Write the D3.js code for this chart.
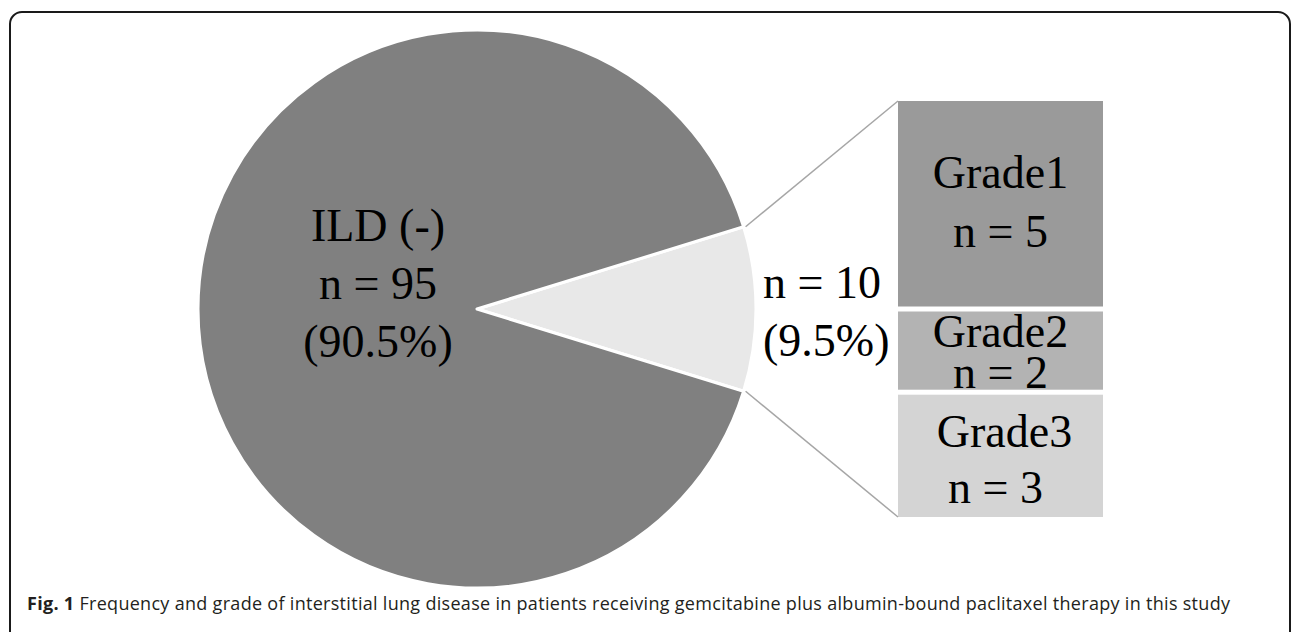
<!DOCTYPE html>
<html>
<head>
<meta charset="utf-8">
<script src="https://cdn.jsdelivr.net/npm/d3@7"></script>
<style>
    body { margin: 0; background: #fff; }
    svg { display: block; }
    .lbl { font-family: "Liberation Serif", "Times New Roman", serif; font-size: 46px; fill: #000; }
    .caption { font-family: "Open Sans", sans-serif; font-size: 18px; fill: #231f20; }
</style>
</head>
<body>
<svg id="chart" width="1292" height="632"></svg>
<script>
/*** DATA ***/
let pie_values = [10, 95];
let pie_lines  = [["n = 10", "(9.5%)"], ["ILD (-)", "n = 95", "(90.5%)"]];
let grades       = ["Grade1", "Grade2", "Grade3"];
let grade_values = [5, 2, 3];
let pie_colors   = ["#e8e8e8", "#808080"];
let grade_colors = ["#9a9a9a", "#b3b3b3", "#d4d4d4"];

/*** SETUP ***/
let svg = d3.select("#chart");
let cx = 477, cy = 309, radius = 279;

// frame
svg.append("rect")
    .attr("x", 10).attr("y", 12)
    .attr("width", 1280).attr("height", 640)
    .attr("rx", 12).attr("ry", 12)
    .attr("fill", "none")
    .attr("stroke", "#1a1a1a")
    .attr("stroke-width", 2);

// pie with the small slice centred on the right
let total = d3.sum(pie_values);
let half = Math.PI * pie_values[0] / total;
let pie = d3.pie().sort(null)
    .startAngle(Math.PI / 2 - half)
    .endAngle(Math.PI / 2 - half + 2 * Math.PI);
let arcs = pie(pie_values);
let arc = d3.arc().innerRadius(0).outerRadius(radius);

let g = svg.append("g").attr("transform", `translate(${cx}, ${cy})`);
g.selectAll("path")
    .data(arcs).enter()
    .append("path")
    .attr("d", arc)
    .attr("fill", (d, i) => pie_colors[i])
    .attr("stroke", "#fff")
    .attr("stroke-width", 3)
    .attr("stroke-linejoin", "round");

// stacked bar of the small slice
let bar_x = d3.scaleBand().domain(["ILD (+)"]).range([898, 1103]).padding(0);
let bar_y = d3.scaleLinear().domain([0, d3.sum(grade_values)]).range([101, 517]);
let stacked = grade_values.map((v, i) => {
    let s = d3.sum(grade_values.slice(0, i));
    return {name: grades[i], value: v, y0: s, y1: s + v, i: i};
});

svg.selectAll("rect.grade")
    .data(stacked).enter()
    .append("rect")
    .classed("grade", true)
    .attr("x", bar_x("ILD (+)"))
    .attr("width", bar_x.bandwidth())
    .attr("y", (d) => bar_y(d.y0) + (d.i > 0 ? 2.5 : 0))
    .attr("height", (d) => bar_y(d.y1) - bar_y(d.y0) - (d.i > 0 ? 2.5 : 0) - (d.i < 2 ? 2.5 : 0))
    .attr("fill", (d) => grade_colors[d.i]);

// connector lines from slice edges to bar corners
let a0 = arcs[0].startAngle, a1 = arcs[0].endAngle;
let ends = [
    [cx + radius * Math.sin(a0), cy - radius * Math.cos(a0), bar_x("ILD (+)"), bar_y(0)],
    [cx + radius * Math.sin(a1), cy - radius * Math.cos(a1), bar_x("ILD (+)"), bar_y(d3.sum(grade_values))]
];
svg.selectAll("line.conn")
    .data(ends).enter()
    .append("line")
    .attr("x1", (d) => d[0] + 2).attr("y1", (d) => d[1])
    .attr("x2", (d) => d[2]).attr("y2", (d) => d[3])
    .attr("stroke", "#a6a6a6")
    .attr("stroke-width", 1.5);

// pie labels
let pie_label_pos = [{x: 763, y: 298, anchor: "start"}, {x: 378, y: 241, anchor: "middle"}];
pie_lines.forEach((lines, i) => {
    let t = svg.append("text").classed("lbl", true)
        .attr("text-anchor", pie_label_pos[i].anchor);
    lines.forEach((l, j) => {
        t.append("tspan")
            .attr("x", pie_label_pos[i].x)
            .attr("y", pie_label_pos[i].y + j * 58)
            .text(l);
    });
});

// grade labels
let grade_dy = [[87, 146], [38, 79], [55, 111]];
let grade_dx = [[0, 0], [0, 0], [4, -5]];
stacked.forEach((d) => {
    let t = svg.append("text").classed("lbl", true).attr("text-anchor", "middle");
    [d.name, "n = " + d.value].forEach((l, j) => {
        t.append("tspan")
            .attr("x", bar_x("ILD (+)") + bar_x.bandwidth() / 2 + grade_dx[d.i][j])
            .attr("y", bar_y(d.y0) + grade_dy[d.i][j])
            .text(l);
    });
});

// caption
let cap = svg.append("text").classed("caption", true)
    .attr("x", 27).attr("y", 610)
    .attr("textLength", 1203)
    .attr("lengthAdjust", "spacing");
cap.append("tspan").attr("font-weight", "bold").text("Fig. 1");
cap.append("tspan").text(" Frequency and grade of interstitial lung disease in patients receiving gemcitabine plus albumin-bound paclitaxel therapy in this study");
</script>
</body>
</html>
